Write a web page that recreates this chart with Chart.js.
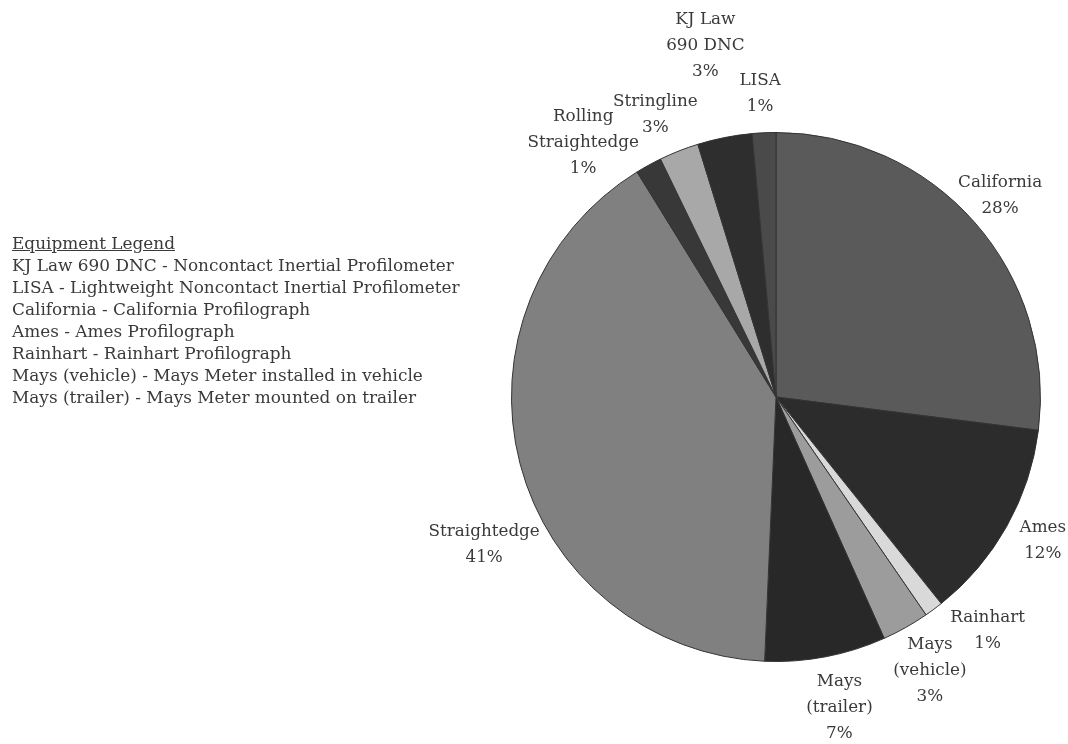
<!DOCTYPE html>
<html>
<head>
<meta charset="utf-8">
<script src="https://cdn.jsdelivr.net/npm/chart.js@4.4.1/dist/chart.umd.min.js"></script>
<style>
  html, body { margin: 0; padding: 0; background: #ffffff; }
  #wrap { position: relative; width: 1068px; height: 744px; }
  #chart { position: absolute; left: 0; top: 0; }
  #equip {
    position: absolute; left: 12px; top: 232px;
    font-family: "DejaVu Serif", serif; font-size: 16.9px; line-height: 22px;
    color: #3a3a3a; white-space: nowrap;
  }
  #equip .head { text-decoration: underline; }
</style>
</head>
<body>
<div id="wrap">
  <canvas id="chart" width="1068" height="744"></canvas>
  <div id="equip"></div>
</div>
<script>
// ---- data ----
const categories = ['California', 'Ames', 'Rainhart', 'Mays (vehicle)', 'Mays (trailer)',
                    'Straightedge', 'Rolling Straightedge', 'Stringline', 'KJ Law 690 DNC', 'LISA'];
// slice shares as drawn in the picture (percent)
const shares = [27.0, 12.25, 1.14, 2.89, 7.39, 40.5, 1.61, 2.42, 3.33, 1.44];
// label names (line breaks as printed) and printed percentages
const labelNames = ['California', 'Ames', 'Rainhart', 'Mays\n(vehicle)', 'Mays\n(trailer)',
                    'Straightedge', 'Rolling\nStraightedge', 'Stringline', 'KJ Law\n690 DNC', 'LISA'];
const printedPercents = ['28%', '12%', '1%', '3%', '7%', '41%', '1%', '3%', '3%', '1%'];
const legendTitle = 'Equipment Legend';
const legendItems = [
  'KJ Law 690 DNC - Noncontact Inertial Profilometer',
  'LISA - Lightweight Noncontact Inertial Profilometer',
  'California - California Profilograph',
  'Ames - Ames Profilograph',
  'Rainhart - Rainhart Profilograph',
  'Mays (vehicle) - Mays Meter installed in vehicle',
  'Mays (trailer) - Mays Meter mounted on trailer'
];

// ---- styles ----
const sliceColors = ['#5a5a5a', '#2c2c2c', '#d9d9d9', '#9c9c9c', '#282828',
                     '#808080', '#383838', '#a8a8a8', '#2e2e2e', '#4a4a4a'];
// label placement: angle nudge (deg) from slice middle, distance from centre (px)
const labelAngleNudge = [-0.5, -1, -5.6, 0, -0.7, -12.2, -8.4, -1.6, -0.2, -0.4];
const labelDistance   = [301, 303, 315, 314, 317, 327, 319, 307, 358, 304];
const labelFont = '16.8px "DejaVu Serif", serif';
const labelLineHeight = 26;

// legend block (HTML text)
const equip = document.getElementById('equip');
const head = document.createElement('div');
head.className = 'head';
head.textContent = legendTitle;
equip.appendChild(head);
legendItems.forEach(t => { const d = document.createElement('div'); d.textContent = t; equip.appendChild(d); });

const sliceLabels = {
  id: 'sliceLabels',
  afterDatasetsDraw(chart) {
    const ctx = chart.ctx;
    const meta = chart.getDatasetMeta(0);
    ctx.save();
    ctx.font = labelFont;
    ctx.fillStyle = '#3a3a3a';
    ctx.textAlign = 'center';
    ctx.textBaseline = 'middle';
    meta.data.forEach((arc, i) => {
      const p = arc.getProps(['x', 'y', 'startAngle', 'endAngle'], true);
      const mid = (p.startAngle + p.endAngle) / 2 + labelAngleNudge[i] * Math.PI / 180;
      const cx = p.x + labelDistance[i] * Math.cos(mid);
      const cy = p.y + labelDistance[i] * Math.sin(mid);
      const lines = labelNames[i].split('\n').concat([printedPercents[i]]);
      const y0 = cy - (lines.length - 1) * labelLineHeight / 2;
      lines.forEach((ln, k) => ctx.fillText(ln, cx, y0 + k * labelLineHeight));
    });
    ctx.restore();
  }
};

new Chart(document.getElementById('chart'), {
  type: 'pie',
  data: {
    labels: categories,
    datasets: [{
      data: shares,
      backgroundColor: sliceColors,
      borderColor: '#333333',
      borderWidth: 1
    }]
  },
  options: {
    responsive: false,
    animation: false,
    layout: { padding: { left: 511, right: 27, top: 132, bottom: 82 } },
    plugins: { legend: { display: false }, tooltip: { enabled: false } }
  },
  plugins: [sliceLabels]
});
</script>
</body>
</html>
